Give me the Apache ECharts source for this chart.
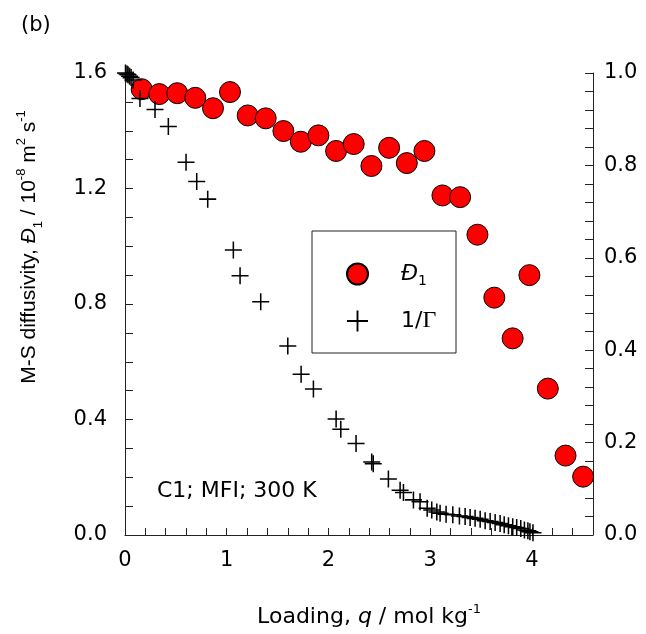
<!DOCTYPE html>
<html>
<head>
<meta charset="utf-8">
<script src="https://cdn.jsdelivr.net/npm/echarts@6/dist/echarts.min.js"></script>
<style>
html,body{margin:0;padding:0;background:#fff;}
#chart{width:646px;height:634px;}
</style>
</head>
<body>
<div id="chart"></div>
<script>
// M-S diffusivity D1 (left axis, 10^-8 m2/s) vs loading q (mol/kg)
const dQ = [0.164,0.337,0.514,0.691,0.865,1.032,1.206,1.383,1.557,1.728,1.901,2.075,2.248,2.422,2.596,2.770,2.943,3.120,3.294,3.464,3.630,3.810,3.975,4.156,4.330,4.503];
const dVal = [1.544,1.527,1.530,1.514,1.478,1.534,1.453,1.443,1.399,1.362,1.384,1.330,1.354,1.278,1.341,1.288,1.330,1.176,1.170,1.040,0.822,0.681,0.900,0.507,0.275,0.202];

// 1/Gamma (right axis) vs loading q
const gQ = [0.005,0.02,0.03,0.045,0.06,0.08,0.147,0.295,0.426,0.600,0.705,0.813,1.065,1.131,1.334,1.600,1.731,1.852,2.075,2.121,2.271,2.425,2.440,2.589,2.704,2.737,2.835,2.900,2.970,3.015,3.065,3.097,3.156,3.222,3.287,3.343,3.392,3.441,3.491,3.540,3.589,3.638,3.687,3.727,3.769,3.811,3.850,3.890,3.926,3.960,3.980,4.010];
const gVal = [1.000,0.998,0.996,0.993,0.990,0.985,0.945,0.921,0.884,0.807,0.765,0.727,0.617,0.561,0.505,0.409,0.348,0.316,0.251,0.229,0.198,0.158,0.154,0.121,0.097,0.092,0.076,0.072,0.058,0.054,0.050,0.047,0.045,0.044,0.041,0.040,0.038,0.036,0.034,0.031,0.029,0.027,0.025,0.022,0.020,0.018,0.016,0.014,0.011,0.009,0.007,0.005];

const FONT = 'DejaVu Sans';
const VFONT = 'Liberation Sans';
const plusPath = 'path://M45.5,0H54.5V45.5H100V54.5H54.5V100H45.5V54.5H0V45.5H45.5Z';

function multLabel(step){
  return function(v){
    const k = v/step;
    return Math.abs(k-Math.round(k))<1e-6 ? (Math.round(k)*step).toFixed(step>=1?0:1) : '';
  };
}

const chart = echarts.init(document.getElementById('chart'), null, {renderer:'canvas'});
const axisColor = '#222';
chart.setOption({
  animation:false,
  backgroundColor:'#fff',
  grid:{left:125,right:53,top:73,bottom:99,containLabel:false,outerBoundsMode:'none'},
  xAxis:{
    type:'value', min:0, max:4.6, interval:0.2,
    axisLine:{show:true,lineStyle:{color:axisColor,width:1}},
    axisTick:{show:true,inside:true,length:7,lineStyle:{color:axisColor}},
    splitLine:{show:false},
    axisLabel:{formatter:multLabel(1),margin:15,color:'#000',fontFamily:FONT,fontSize:21},
    name:'Loading, {i|q} / mol kg{sup|-1}',
    nameLocation:'middle', nameGap:68,
    nameTextStyle:{color:'#000',fontFamily:FONT,fontSize:22,lineHeight:28,padding:[0,0,0,20],
      rich:{i:{fontStyle:'italic',fontFamily:FONT,fontSize:22,lineHeight:28,color:'#000'},
            sup:{fontSize:13,fontFamily:FONT,lineHeight:13,verticalAlign:'top',color:'#000'}}}
  },
  yAxis:[{
    type:'value', min:0, max:1.6, interval:0.1, position:'left',
    axisLine:{show:true,lineStyle:{color:axisColor,width:1}},
    axisTick:{show:true,inside:true,length:8,lineStyle:{color:axisColor}},
    splitLine:{show:false},
    axisLabel:{formatter:multLabel(0.4),margin:18,color:'#000',fontFamily:FONT,fontSize:21}
  },{
    type:'value', min:0, max:1.0, interval:0.04, position:'right',
    axisLine:{show:true,lineStyle:{color:axisColor,width:1}},
    axisTick:{show:true,inside:true,length:8,lineStyle:{color:axisColor}},
    splitLine:{show:false},
    axisLabel:{formatter:multLabel(0.2),margin:11,color:'#000',fontFamily:FONT,fontSize:21}
  }],
  legend:{
    orient:'vertical', left:346, top:260, itemWidth:21, itemHeight:21, itemGap:19,
    padding:0,
    data:['D1','G'],
    formatter:function(n){ return n==='D1' ? '{i|Đ}{sub|1}' : '1/{g|Γ}'; },
    textStyle:{color:'#000',fontFamily:FONT,fontSize:22,lineHeight:28,padding:[0,0,0,28],
      rich:{i:{fontStyle:'italic',fontFamily:FONT,fontSize:22,lineHeight:28,color:'#000'},
            sub:{fontSize:14,fontFamily:FONT,lineHeight:20,verticalAlign:'bottom',color:'#000'},
            g:{fontFamily:'Liberation Serif',fontSize:24,lineHeight:28,color:'#000'}}}
  },
  graphic:[
    {type:'rect',shape:{x:312,y:231,width:144,height:122},style:{fill:'none',stroke:'#222',lineWidth:1},z:10},
    {type:'text',x:21,y:26,style:{text:'(b)',fontFamily:FONT,fontSize:21,fill:'#000',verticalAlign:'middle'}},
    {type:'text',x:157,y:491,style:{text:'C1; MFI; 300 K',fontFamily:FONT,fontSize:22,fill:'#000',verticalAlign:'middle'}},
    {type:'text',x:29.5,y:247,rotation:Math.PI/2,
      style:{text:'M-S diffusivity, {i|Đ}{sub|1} / 10{sup|-8} m{sup|2} s{sup|-1}',
        fontFamily:VFONT,fontSize:21,lineHeight:30,fill:'#000',align:'center',verticalAlign:'middle',
        rich:{i:{fontStyle:'italic',fontFamily:VFONT,fontSize:21,lineHeight:30,fill:'#000'},
              sub:{fontSize:13,fontFamily:VFONT,lineHeight:20,verticalAlign:'bottom',fill:'#000'},
              sup:{fontSize:13,fontFamily:VFONT,lineHeight:13,verticalAlign:'top',fill:'#000'}}}}
  ],
  series:[{
    name:'D1', type:'scatter', yAxisIndex:0, symbol:'circle', symbolSize:21,
    itemStyle:{color:'#ff0000',borderColor:'#000',borderWidth:1,opacity:1},
    data:dQ.map((q,i)=>[q,dVal[i]]), z:2
  },{
    name:'G', type:'scatter', yAxisIndex:1, symbol:plusPath, symbolSize:17,
    itemStyle:{color:'#000',opacity:1},
    data:gQ.map((q,i)=>[q,gVal[i]]), z:3
  }]
});
</script>
</body>
</html>
